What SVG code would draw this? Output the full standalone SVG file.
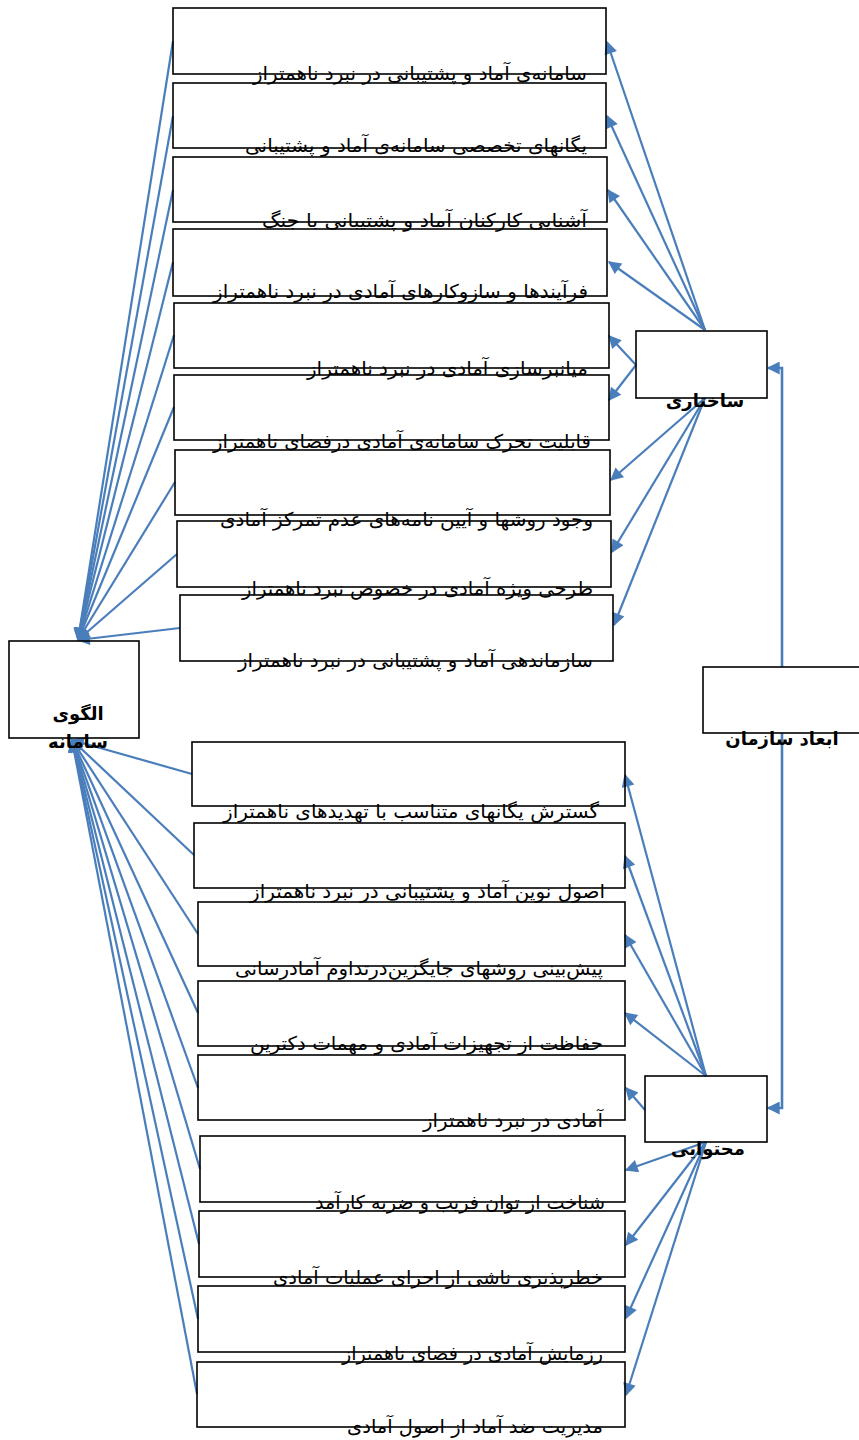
<svg xmlns="http://www.w3.org/2000/svg" width="859" height="1440" viewBox="0 0 859 1440">
<style>
.box{fill:none;stroke:#000;stroke-width:1.6}
.t{font-family:"DejaVu Sans","Noto Sans",sans-serif;font-size:19px;fill:#000;text-anchor:end}
.b{font-family:"DejaVu Sans","Noto Sans",sans-serif;font-size:18px;font-weight:bold;fill:#000;text-anchor:middle}
.c{fill:none;stroke:#4A7EBB;stroke-width:2.2}
</style>
<defs>
<marker id="ah" viewBox="0 0 10 10" refX="9" refY="5" markerWidth="16" markerHeight="13" markerUnits="userSpaceOnUse" orient="auto"><path d="M0,0 L10,5 L0,10 z" fill="#4A7EBB"/></marker>
</defs>
<rect x="0" y="0" width="859" height="1440" fill="#fff"/>
<g id="connectors">
<path class="c" marker-end="url(#ah)" d="M173,41 L78,640"/>
<path class="c" marker-end="url(#ah)" d="M173,116 L78,640"/>
<path class="c" marker-end="url(#ah)" d="M173,190 L78,640"/>
<path class="c" marker-end="url(#ah)" d="M173,262 L78,640"/>
<path class="c" marker-end="url(#ah)" d="M174,335 L78,640"/>
<path class="c" marker-end="url(#ah)" d="M174,407 L78,640"/>
<path class="c" marker-end="url(#ah)" d="M175,482 L78,640"/>
<path class="c" marker-end="url(#ah)" d="M177,554 L78,640"/>
<path class="c" marker-end="url(#ah)" d="M180,628 L78,640"/>
<path class="c" marker-end="url(#ah)" d="M192,774 L72,740"/>
<path class="c" marker-end="url(#ah)" d="M194,855 L72,740"/>
<path class="c" marker-end="url(#ah)" d="M198,934 L72,740"/>
<path class="c" marker-end="url(#ah)" d="M198,1013 L72,740"/>
<path class="c" marker-end="url(#ah)" d="M198,1088 L72,740"/>
<path class="c" marker-end="url(#ah)" d="M200,1169 L72,740"/>
<path class="c" marker-end="url(#ah)" d="M199,1244 L72,740"/>
<path class="c" marker-end="url(#ah)" d="M198,1319 L72,740"/>
<path class="c" marker-end="url(#ah)" d="M197,1394 L72,740"/>
<path class="c" marker-end="url(#ah)" d="M705,330 L607,42"/>
<path class="c" marker-end="url(#ah)" d="M705,330 L607,116"/>
<path class="c" marker-end="url(#ah)" d="M705,330 L608,190"/>
<path class="c" marker-end="url(#ah)" d="M705,330 L609,262"/>
<path class="c" marker-end="url(#ah)" d="M636,365 L609,336"/>
<path class="c" marker-end="url(#ah)" d="M636,365 L609,400"/>
<path class="c" marker-end="url(#ah)" d="M705,398 L611,480"/>
<path class="c" marker-end="url(#ah)" d="M705,398 L612,552"/>
<path class="c" marker-end="url(#ah)" d="M705,398 L614,625"/>
<path class="c" marker-end="url(#ah)" d="M706,1076 L625,775"/>
<path class="c" marker-end="url(#ah)" d="M706,1076 L625,856"/>
<path class="c" marker-end="url(#ah)" d="M706,1076 L625,935"/>
<path class="c" marker-end="url(#ah)" d="M706,1076 L625,1013"/>
<path class="c" marker-end="url(#ah)" d="M645,1110 L626,1088"/>
<path class="c" marker-end="url(#ah)" d="M706,1142 L626,1170"/>
<path class="c" marker-end="url(#ah)" d="M706,1142 L626,1245"/>
<path class="c" marker-end="url(#ah)" d="M706,1142 L626,1318"/>
<path class="c" marker-end="url(#ah)" d="M706,1142 L626,1395"/>
<path class="c" style="stroke-width:2.6" marker-end="url(#ah)" d="M782,667 V368 H768"/>
<path class="c" style="stroke-width:2.6" marker-end="url(#ah)" d="M782,733 V1108 H768"/>
</g>
<g id="n-s1"><rect class="box" x="173" y="8" width="433" height="66"/><text class="t" x="587" y="80" textLength="334" lengthAdjust="spacingAndGlyphs">سامانه‌ی آماد و پشتیبانی در نبرد ناهمتراز</text></g>
<g id="n-s2"><rect class="box" x="173" y="83" width="433" height="65"/><text class="t" x="587" y="152" textLength="342" lengthAdjust="spacingAndGlyphs">یگانهای تخصصی سامانه‌ی آماد و پشتیبانی</text></g>
<g id="n-s3"><rect class="box" x="173" y="157" width="434" height="65"/><text class="t" x="587" y="227" textLength="325" lengthAdjust="spacingAndGlyphs">آشنایی کارکنان آماد و پشتیبانی با جنگ</text></g>
<g id="n-s4"><rect class="box" x="173" y="229" width="434" height="67"/><text class="t" x="588" y="298" textLength="375" lengthAdjust="spacingAndGlyphs">فرآیندها و سازوکارهای آمادی در نبرد ناهمتراز</text></g>
<g id="n-s5"><rect class="box" x="174" y="303" width="435" height="65"/><text class="t" x="588" y="375" textLength="281" lengthAdjust="spacingAndGlyphs">میانبرسازی آمادی در نبرد ناهمتراز</text></g>
<g id="n-s6"><rect class="box" x="174" y="375" width="435" height="65"/><text class="t" x="591" y="448" textLength="378" lengthAdjust="spacingAndGlyphs">قابلیت تحرک سامانه‌ی آمادی درفضای ناهمتراز</text></g>
<g id="n-s7"><rect class="box" x="175" y="450" width="435" height="65"/><text class="t" x="593" y="526" textLength="373" lengthAdjust="spacingAndGlyphs">وجود روشها و آیین نامه‌های عدم تمرکز آمادی</text></g>
<g id="n-s8"><rect class="box" x="177" y="521" width="434" height="66"/><text class="t" x="593" y="595" textLength="351" lengthAdjust="spacingAndGlyphs">طرحی ویژه آمادی در خصوص نبرد ناهمتراز</text></g>
<g id="n-s9"><rect class="box" x="180" y="595" width="433" height="66"/><text class="t" x="593" y="667" textLength="355" lengthAdjust="spacingAndGlyphs">سازماندهی آماد و پشتیبانی در نبرد ناهمتراز</text></g>
<g id="n-c1"><rect class="box" x="192" y="742" width="433" height="64"/><text class="t" x="599" y="818" textLength="376" lengthAdjust="spacingAndGlyphs">گسترش یگانهای متناسب با تهدیدهای ناهمتراز</text></g>
<g id="n-c2"><rect class="box" x="194" y="823" width="431" height="65"/><text class="t" x="605" y="898" textLength="355" lengthAdjust="spacingAndGlyphs">اصول نوین آماد و پشتیبانی در نبرد ناهمتراز</text></g>
<g id="n-c3"><rect class="box" x="198" y="902" width="427" height="64"/><text class="t" x="603" y="975" textLength="368" lengthAdjust="spacingAndGlyphs">پیش‌بینی روشهای جایگزین‌درتداوم آمادرسانی</text></g>
<g id="n-c4"><rect class="box" x="198" y="981" width="427" height="65"/><text class="t" x="603" y="1050" textLength="353" lengthAdjust="spacingAndGlyphs">حفاظت از تجهیزات آمادی و مهمات دکترین</text></g>
<g id="n-c5"><rect class="box" x="198" y="1055" width="427" height="65"/><text class="t" x="603" y="1127" textLength="180" lengthAdjust="spacingAndGlyphs">آمادی در نبرد ناهمتراز</text></g>
<g id="n-c6"><rect class="box" x="200" y="1136" width="425" height="66"/><text class="t" x="605" y="1209" textLength="290" lengthAdjust="spacingAndGlyphs">شناخت از توان فریب و ضربه کارآمد</text></g>
<g id="n-c7"><rect class="box" x="199" y="1211" width="426" height="66"/><text class="t" x="603" y="1284" textLength="330" lengthAdjust="spacingAndGlyphs">خطرپذیری ناشی از اجرای عملیات آمادی</text></g>
<g id="n-c8"><rect class="box" x="198" y="1286" width="427" height="66"/><text class="t" x="603" y="1360" textLength="261" lengthAdjust="spacingAndGlyphs">رزمایش آمادی در فضای ناهمتراز</text></g>
<g id="n-c9"><rect class="box" x="197" y="1362" width="428" height="65"/><text class="t" x="603" y="1433" textLength="256" lengthAdjust="spacingAndGlyphs">مدیریت ضد آماد از اصول آمادی</text></g>
<g id="n-model"><rect class="box" x="9" y="641" width="130" height="97"/><text class="b" x="78" y="720">الگوی</text><text class="b" x="78" y="748">سامانه</text></g>
<g id="n-struct"><rect class="box" x="636" y="331" width="131" height="67"/><text class="b" x="705" y="407">ساختاری</text></g>
<g id="n-dims"><rect class="box" x="703" y="667" width="160" height="66"/><text class="b" x="782" y="745">ابعاد سازمان</text></g>
<g id="n-content"><rect class="box" x="645" y="1076" width="122" height="66"/><text class="b" x="708" y="1155">محتوایی</text></g>
</svg>
